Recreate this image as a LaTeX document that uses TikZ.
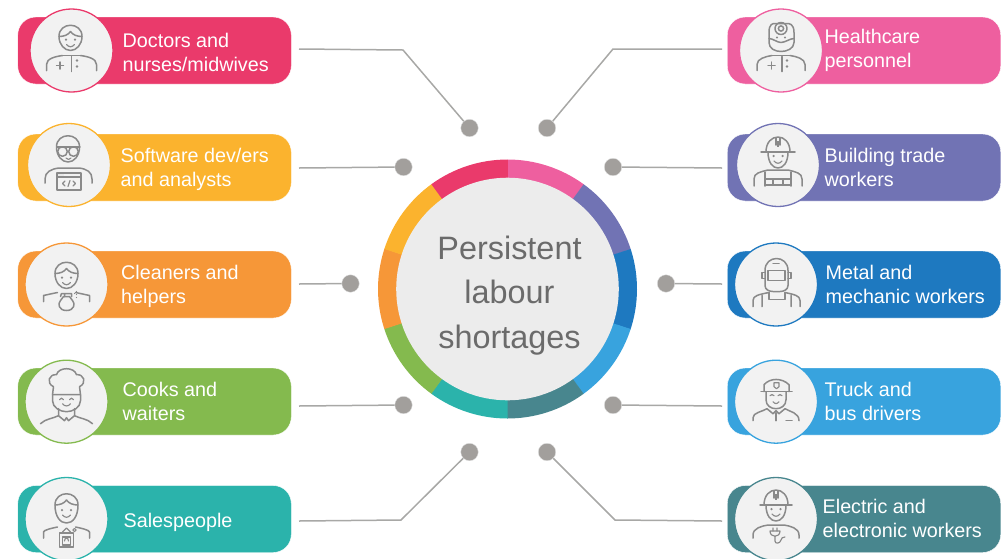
\documentclass[tikz,border=0pt]{standalone}
\usepackage{fontspec}
\setmainfont{Liberation Sans}
\definecolor{cred}{HTML}{EA3A6B}
\definecolor{cyel}{HTML}{FBB32E}
\definecolor{cora}{HTML}{F69738}
\definecolor{cgrn}{HTML}{84BA4E}
\definecolor{ctea}{HTML}{2BB3AB}
\definecolor{cpnk}{HTML}{EE5F9F}
\definecolor{cpur}{HTML}{7173B4}
\definecolor{cblu}{HTML}{1E79C0}
\definecolor{clbl}{HTML}{38A3DE}
\definecolor{cdtl}{HTML}{48868E}
\definecolor{icg}{HTML}{8A8A8A}
\definecolor{lnk}{HTML}{A8A8A6}
\tikzset{
 bar/.style={rectangle,rounded corners=18pt,minimum width=273.5pt,minimum height=67pt,inner sep=0pt,draw=white,line width=.4pt},
 ava/.style={circle,minimum size=83pt,inner sep=0pt,fill=black!5,line width=1.3pt},
 lbl/.style={anchor=base west,align=left,inner sep=0pt,text=white,font=\fontsize{19.75}{24}\selectfont},
 dot/.style={circle,minimum size=17.5pt,inner sep=0pt,fill=black!37!white!95!brown,draw=black!12,line width=.4pt},
 lnkl/.style={draw=lnk,line width=1.5pt},
 ic/.style={draw=icg,line width=1.5pt,line cap=round,line join=round},
 ict/.style={draw=icg,line width=1.15pt,line cap=round,line join=round},
 icf/.style={fill=icg}
}
% icon parts (local pixel frame, y downward)
\newcommand{\icFace}[3]{% x centre, top of skull y, chin y
 \draw[ic] (#1-11.5,#2+12) .. controls (#1-11.5,#2-3) and (#1+11.5,#2-3) .. (#1+11.5,#2+12) .. controls (#1+11.5,#3-6) and (#1+6,#3) .. (#1,#3) .. controls (#1-6,#3) and (#1-11.5,#3-6) .. (#1-11.5,#2+12);}
\newcommand{\icHair}[2]{%
 \draw[ic] (#1-11.5,#2) .. controls (#1-6,#2) and (#1-2,#2-2) .. (#1,#2-5) .. controls (#1+2,#2-2) and (#1+6,#2) .. (#1+11.5,#2);}
\newcommand{\icSmile}[2]{%
 \fill[icf] (#1-4.5,#2) circle (1.25pt) (#1+4.5,#2) circle (1.25pt);
 \draw[ict] (#1-4,#2+5) .. controls (#1-1.5,#2+8) and (#1+1.5,#2+8) .. (#1+4,#2+5);}
\newcommand{\icArms}[3]{% half width, neck y, bottom y
 \draw[ic] (-#1,#3) -- (-#1,#3-6) .. controls (-#1,#2+3) and (-#1+9,#2+1) .. (-9,#2);
 \draw[ic] (#1,#3) -- (#1,#3-6) .. controls (#1,#2+3) and (#1-9,#2+1) .. (9,#2);}
\newcommand{\icHelmet}[3]{% x centre, brim y, half brim
 \draw[ic] (#1-#3,#2) -- (#1+#3,#2);
 \draw[ic] (#1-12,#2) .. controls (#1-12,#2-20) and (#1+12,#2-20) .. (#1+12,#2);
 \draw[ic] (#1-2,#2-14) -- (#1-2,#2-7) (#1+2,#2-14) -- (#1+2,#2-7);
 \draw[ic] (#1-10,#2) .. controls (#1-10,#2+11) and (#1-5,#2+16) .. (#1,#2+16) .. controls (#1+5,#2+16) and (#1+10,#2+11) .. (#1+10,#2);}
\begin{document}
\begin{tikzpicture}[x=1pt,y=-1pt]
\useasboundingbox (0,0) rectangle (1007,558);
\clip (0,0) rectangle (1007,558);
% ring
\begin{scope}[shift={(507.5,289)}]
\foreach \a/\c in {90/cpnk,54/cpur,18/cblu,-18/clbl,-54/cdtl,-90/ctea,-126/cgrn,-162/cora,162/cyel,126/cred}{
 \fill[\c] (\a:129.5pt) arc[start angle=\a,delta angle=-36.2,radius=129.5pt] -- (\a-36.2:105pt) arc[start angle=\a-36.2,delta angle=36.2,radius=105pt] -- cycle;
}
\end{scope}
\node[circle,minimum size=222.6pt,inner sep=0pt,fill=black!7.5] (hub) at (507.5,289) {};
\node[align=center,inner sep=0pt,text=black!58,font=\fontsize{32.4}{44.5}\selectfont,anchor=base] (hubt) at (509.5,348) {Persistent\\labour\\shortages};
% coordinates
\foreach \n/\x/\y in {d1/469.5/128,d2/403.5/167,d3/350.5/283.5,d4/403.5/405,d5/469.5/452,d6/547/128,d7/613/167,d8/666/283.5,d9/613/405,d10/547/452}{
 \node[dot] (\n) at (\x,\y) {};
}
\coordinate (a1) at (299,49); \coordinate (e1) at (403,50);
\coordinate (a2) at (299,168);
\coordinate (a3) at (299,284);
\coordinate (a4) at (299,406);
\coordinate (a5) at (299,521); \coordinate (e5) at (401,520);
\coordinate (a6) at (722,49); \coordinate (e6) at (613,49);
\coordinate (a7) at (722,168);
\coordinate (a8) at (722,284);
\coordinate (a9) at (722,406);
\coordinate (a10) at (722,521); \coordinate (e10) at (615,520);
\draw[lnkl] (a1) -- (e1) -- (d1);
\draw[lnkl] (a2) -- (d2);
\draw[lnkl] (a3) -- (d3);
\draw[lnkl] (a4) -- (d4);
\draw[lnkl] (a5) -- (e5) -- (d5);
\draw[lnkl] (a6) -- (e6) -- (d6);
\draw[lnkl] (a7) -- (d7);
\draw[lnkl] (a8) -- (d8);
\draw[lnkl] (a9) -- (d9);
\draw[lnkl] (a10) -- (e10) -- (d10);
% bars
\foreach \n/\x/\y/\c in {b1/154.5/50.5/cred,b2/154.5/167.5/cyel,b3/154.5/284.5/cora,b4/154.5/401.5/cgrn,b5/154.5/519/ctea,b6/864/50.5/cpnk,b7/864/167.5/cpur,b8/864/284.5/cblu,b9/864/401.5/clbl,b10/864/519/cdtl}{
 \node[bar,fill=\c] (\n) at (\x,\y) {};
}
% avatars
\foreach \n/\x/\y/\c in {c1/71.5/50.5/cred,c2/69/165/cyel,c3/66.5/284.5/cora,c4/66.5/401.7/cgrn,c5/66.5/519/ctea,c6/781/50.5/cpnk,c7/778/165/cpur,c8/776/284.5/cblu,c9/776/401.7/clbl,c10/776/519/cdtl}{
 \node[ava,draw=\c] (\n) at (\x,\y) {};
}
% labels
\node[lbl] (t1) at (122.5,71.2) {Doctors and\\nurses/midwives};
\node[lbl] (t2) at (120.5,186) {Software dev/ers\\and analysts};
\node[lbl] (t3) at (121,303.5) {Cleaners and\\helpers};
\node[lbl] (t4) at (122.5,420.5) {Cooks and\\waiters};
\node[lbl] (t5) at (123.5,527) {Salespeople};
\node[lbl] (t6) at (824.5,67.5) {Healthcare\\personnel};
\node[lbl] (t7) at (824.5,186.5) {Building trade\\workers};
\node[lbl] (t8) at (825.5,303) {Metal and\\mechanic workers};
\node[lbl] (t9) at (824.5,420.5) {Truck and\\bus drivers};
\node[lbl] (t10) at (822.5,537.5) {Electric and\\electronic workers};
% icons
\begin{scope}[shift={(c1.center)}]
 \icFace{-1}{-26}{0}\icHair{-1}{-14}\icSmile{-1}{-11}
 \icArms{25}{5}{20}
 \draw[ic] (-9,5) -- (9,5) (0,6) -- (0,21);
 \draw[ic] (-15,15) -- (-8,15) (-11.5,11.5) -- (-11.5,18.5);
 \fill[icf] (5.5,10) circle (1.3pt) (5.5,16) circle (1.3pt);
\end{scope}
\begin{scope}[shift={(c2.center)}]
 \icFace{-1}{-30}{-3}
 \draw[ic] (-12,-18) -- (11,-18);
 \draw[ic] (-6.5,-13.5) circle (4.8pt) (4.5,-13.5) circle (4.8pt);
 \draw[ict] (-3,-7) .. controls (-1.5,-5) and (.5,-5) .. (2,-7);
 \draw[ic] (-24,18) -- (-24,14) .. controls (-24,7) and (-18,4) .. (-10,3) -- (10,3) .. controls (18,4) and (23,7) .. (23,14) -- (23,18);
 \draw[ict,fill=black!5] (-12,8) rectangle (12,25);
 \draw[ict] (-12,12) -- (12,12);
 \draw[ict] (-4,16) -- (-6.5,18.5) -- (-4,21) (4,16) -- (6.5,18.5) -- (4,21) (1,15.5) -- (-1,21.5);
 \fill[icf] (-10,10) circle (.4pt) (-8,10) circle (.4pt) (-6,10) circle (.4pt);
\end{scope}
\begin{scope}[shift={(c3.center)}]
 \icFace{0}{-23}{4}\icHair{0}{-11}\icSmile{0}{-7}
 \icArms{23}{8}{17}
 \draw[ic] (-6,16) .. controls (-9,19) and (-8,26) .. (0,26) .. controls (8,26) and (9,19) .. (6,16) -- (3,12) -- (-3,12) -- (-6,16);
 \draw[ic] (-5,9) -- (5,9) -- (5,12) (-2,9) -- (-2,12) (-5,9) -- (-6,12);
 \fill[icf] (8,9) circle (.6pt) (10,7) circle (.6pt) (10,10) circle (.6pt) (10,13) circle (.6pt);
\end{scope}
\begin{scope}[shift={(c4.center)}]
 \draw[ic] (-13,-15) .. controls (-21,-19) and (-17,-28) .. (-10,-27) .. controls (-8,-35) and (8,-35) .. (10,-27) .. controls (17,-28) and (21,-19) .. (13,-15) -- (14,-7) -- (-14,-7) -- (-13,-15);
 \draw[ic] (-14,-7) -- (-14,-1) .. controls (-14,6) and (-6,10) .. (0,10) .. controls (6,10) and (14,6) .. (14,-1) -- (14,-7);
 \draw[ict] (-7,-2) .. controls (-6,-4) and (-4,-4) .. (-3,-2) (3,-2) .. controls (4,-4) and (6,-4) .. (7,-2);
 \draw[ict] (-4,2) .. controls (-2,5) and (2,5) .. (4,2);
 \draw[ic] (-26,22) .. controls (-21,17) and (-14,17) .. (-8,14) -- (-8,7) (26,22) .. controls (21,17) and (14,17) .. (8,14) -- (8,7);
 \draw[ic] (-8,14) -- (-2,19) -- (0,16) -- (2,19) -- (8,14);
\end{scope}
\begin{scope}[shift={(c5.center)}]
 \icFace{0}{-26}{4}\icHair{0}{-14}\icSmile{0}{-9}
 \icArms{23}{8}{19}
 \draw[ict] (-7,14) rectangle (7,28) (-4,18) rectangle (4,26);
 \draw[ict] (-4,13) -- (0,9) -- (4,13) (-2,22) .. controls (-2,18) and (2,18) .. (2,22);
 \draw[ict] (8,11) circle (1.6pt);
\end{scope}
\begin{scope}[shift={(c6.center)}]
 \draw[ic] (-12,-18) .. controls (-12,-27) and (-8,-27) .. (-6,-27) -- (6,-27) .. controls (8,-27) and (13,-27) .. (13,-18) -- (13,-8) .. controls (13,-2) and (6,1) .. (0,1) .. controls (-6,1) and (-12,-2) .. (-12,-8) -- cycle;
 \draw[ic] (0,-22) circle (6pt) (0,-22) circle (2.6pt);
 \draw[ic] (-12,-12) .. controls (-8,-12) and (-4,-8) .. (0,-8) .. controls (4,-8) and (9,-12) .. (13,-12);
 \fill[icf] (-4,-13) circle (1.2pt) (4,-13) circle (1.2pt);
 \icArms{24}{5}{20}
 \draw[ic] (-9,5) -- (9,5) (1,6) -- (1,21);
 \draw[ic] (-13,15) -- (-6,15) (-9.5,11.5) -- (-9.5,18.5);
 \fill[icf] (6,10) circle (1.3pt) (6,16) circle (1.3pt);
\end{scope}
\begin{scope}[shift={(c7.center)}]
 \icHelmet{0}{-13}{17}
 \fill[icf] (-1,-24) rectangle (1,-18);
 \icSmile{0}{-9}
 \draw[ic] (-24,21) -- (-24,14) .. controls (-24,8) and (-18,7) .. (-10,5) -- (10,5) .. controls (18,7) and (24,8) .. (24,14) -- (24,21);
 \draw[ic] (-13,7) -- (-13,21) (13,7) -- (13,21) (-13,14) -- (13,14) (-13,20) -- (13,20) (-5,14) -- (-5,20) (5,14) -- (5,20);
\end{scope}
\begin{scope}[shift={(c8.center)}]
 \draw[ic] (-11,-14) .. controls (-11,-30) and (12,-30) .. (12,-14) -- (12,1) .. controls (12,5) and (8,7) .. (4,7) -- (-3,7) .. controls (-7,7) and (-11,5) .. (-11,1) -- cycle;
 \draw[ic] (-8,-14) rectangle (9,-4);
 \draw[ic] (-3,-21) -- (3,-21) (-11,-12) -- (-14,-12) -- (-14,-6) -- (-11,-6) (12,-12) -- (15,-12) -- (15,-6) -- (12,-6);
 \draw[ic] (-7,8) -- (-7,15) -- (9,15) -- (9,8);
 \draw[ic] (-23,22) -- (-23,16) .. controls (-23,11) and (-17,10) .. (-7,8) (24,22) -- (24,16) .. controls (24,11) and (18,10) .. (9,8) (-14,11) -- (-14,22) (15,11) -- (15,22);
\end{scope}
\begin{scope}[shift={(c9.center)}]
 \draw[ic] (-15,-10) -- (16,-10);
 \draw[ic] (-12,-10) -- (-12,-17) .. controls (-6,-24) and (6,-24) .. (13,-17) -- (13,-10);
 \draw[ict] (-2,-19) -- (3,-19) -- (3,-15) -- (.5,-13) -- (-2,-15) -- cycle;
 \draw[ic] (-10,-10) -- (-10,-2) .. controls (-10,4) and (-5,7) .. (0,7) .. controls (5,7) and (10,4) .. (10,-2) -- (10,-10);
 \draw[ict] (-6,-6) .. controls (-5,-7.5) and (-3,-7.5) .. (-2,-6) (2,-6) .. controls (3,-7.5) and (5,-7.5) .. (6,-6);
 \draw[ict] (-3,0) .. controls (-1,2.5) and (1,2.5) .. (3,0);
 \draw[ic] (-23,19) -- (-23,16) .. controls (-23,11) and (-14,10) .. (-9,7) -- (-3,12) -- (0,9) -- (3,12) -- (9,7) .. controls (14,10) and (23,11) .. (23,19);
 \draw[ic] (0,11) -- (0,19) (10,19) -- (16,19);
\end{scope}
\begin{scope}[shift={(c10.center)}]
 \icHelmet{0}{-14}{16}
 \fill[icf] (-1,-25) rectangle (1,-19);
 \icSmile{0}{-10}
 \draw[ic] (-23,19) -- (-23,16) .. controls (-23,9) and (-14,7) .. (-8,6) -- (8,6) .. controls (14,7) and (23,9) .. (23,16) -- (23,19);
 \draw[ict] (-6,12) -- (4,12) .. controls (4,19) and (-6,19) .. (-6,12);
 \draw[ict] (-3,12) -- (-3,9) (1,12) -- (1,9) (-1,17) -- (-1,22) .. controls (-1,25) and (4,25) .. (5,21) .. controls (5,19) and (7,18) .. (9,18);
\end{scope}
\end{tikzpicture}
\end{document}
